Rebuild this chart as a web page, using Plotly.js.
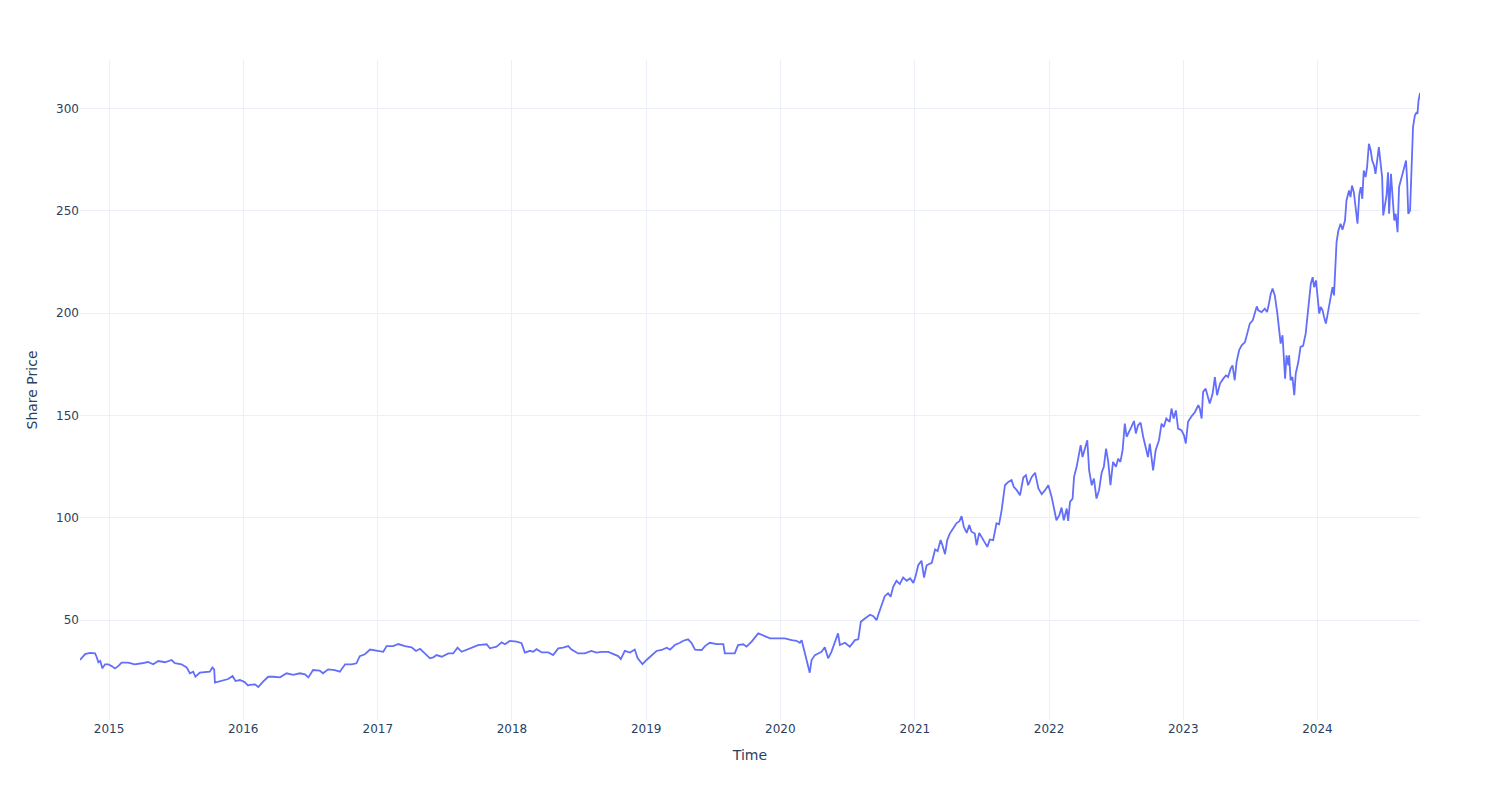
<!DOCTYPE html>
<html>
<head>
<meta charset="utf-8">
<script src="https://cdn.plot.ly/plotly-3.0.1.min.js"></script>
<style>html,body{margin:0;padding:0;background:#fff}#chart{width:1500px;height:800px}</style>
</head>
<body>
<div id="chart"></div>
<script>
const dates = [
'2014-10-14','2014-10-28','2014-11-10','2014-11-24','2014-11-28','2014-12-03','2014-12-08','2014-12-14','2014-12-21','2014-12-30',
'2015-01-08','2015-01-17','2015-01-26','2015-02-04','2015-02-22','2015-03-12','2015-03-31','2015-04-17','2015-05-01','2015-05-15',
'2015-06-02','2015-06-20','2015-06-29','2015-07-17','2015-07-31','2015-08-09','2015-08-18','2015-08-24','2015-09-05','2015-09-23',
'2015-10-02','2015-10-09','2015-10-14','2015-10-16','2015-11-03','2015-11-21','2015-12-03','2015-12-11','2015-12-23',
'2016-01-05','2016-01-14','2016-01-19','2016-02-02','2016-02-11','2016-02-24','2016-03-09','2016-03-23','2016-04-10','2016-04-28',
'2016-05-16','2016-06-03','2016-06-17','2016-06-26','2016-07-09','2016-07-27','2016-08-05','2016-08-19','2016-09-06','2016-09-20',
'2016-10-04','2016-10-22','2016-11-04','2016-11-13','2016-11-27','2016-12-11','2016-12-29',
'2017-01-16','2017-01-25','2017-02-12','2017-02-26','2017-03-16','2017-04-03','2017-04-15','2017-04-26','2017-05-09','2017-05-23',
'2017-06-01','2017-06-10','2017-06-24','2017-07-12','2017-07-25','2017-08-06','2017-08-17','2017-08-31','2017-09-13','2017-10-01',
'2017-10-24','2017-11-02','2017-11-20','2017-12-04','2017-12-13','2017-12-26',
'2018-01-14','2018-01-27','2018-02-05','2018-02-19','2018-02-28','2018-03-09','2018-03-23','2018-04-10','2018-04-23','2018-05-07',
'2018-05-20','2018-06-03','2018-06-12','2018-06-30','2018-07-18','2018-08-05','2018-08-19','2018-09-02','2018-09-20','2018-10-03',
'2018-10-17','2018-10-24','2018-11-04','2018-11-18','2018-12-01','2018-12-09','2018-12-22',
'2019-01-02','2019-01-16','2019-01-29','2019-02-12','2019-02-26','2019-03-07','2019-03-20','2019-04-03','2019-04-12','2019-04-25',
'2019-05-05','2019-05-14','2019-06-01','2019-06-10','2019-06-23','2019-07-12','2019-07-30','2019-08-03','2019-08-17','2019-08-30',
'2019-09-08','2019-09-22','2019-10-01','2019-10-15','2019-11-02','2019-11-15','2019-12-04','2019-12-22',
'2020-01-13','2020-02-01','2020-02-14','2020-02-23','2020-02-28','2020-03-08','2020-03-17','2020-03-21','2020-03-26','2020-04-04',
'2020-04-13','2020-04-22','2020-05-01','2020-05-10','2020-05-19','2020-06-02','2020-06-06','2020-06-11','2020-06-25','2020-07-08',
'2020-07-22','2020-07-31','2020-08-07','2020-08-18','2020-09-01','2020-09-10','2020-09-19','2020-09-23','2020-10-02','2020-10-11',
'2020-10-20','2020-10-27','2020-11-03','2020-11-12','2020-11-21','2020-11-30','2020-12-10','2020-12-19','2020-12-28',
'2021-01-03','2021-01-10','2021-01-19','2021-01-26','2021-02-02','2021-02-16','2021-02-25','2021-03-04','2021-03-12','2021-03-17',
'2021-03-24','2021-03-30','2021-04-06','2021-04-15','2021-04-24','2021-05-02','2021-05-08','2021-05-14','2021-05-22','2021-05-29',
'2021-06-04','2021-06-13','2021-06-18','2021-06-25','2021-07-06','2021-07-17','2021-07-24','2021-08-02','2021-08-11','2021-08-18',
'2021-08-25','2021-09-03','2021-09-12','2021-09-21','2021-09-27','2021-10-05','2021-10-14','2021-10-23','2021-10-30','2021-11-05',
'2021-11-15','2021-11-24','2021-12-03','2021-12-12','2021-12-21','2021-12-30',
'2022-01-08','2022-01-14','2022-01-21','2022-01-29','2022-02-04','2022-02-10','2022-02-18','2022-02-22','2022-02-27','2022-03-06',
'2022-03-10','2022-03-17','2022-03-24','2022-03-28','2022-04-02','2022-04-08','2022-04-15','2022-04-20','2022-04-27','2022-05-03',
'2022-05-10','2022-05-17','2022-05-24','2022-05-30','2022-06-05','2022-06-11','2022-06-17','2022-06-24','2022-07-02','2022-07-08',
'2022-07-14','2022-07-20','2022-07-26','2022-07-31','2022-08-07','2022-08-13','2022-08-20','2022-08-25','2022-08-31','2022-09-07',
'2022-09-14','2022-09-21','2022-09-27','2022-10-02','2022-10-07','2022-10-11','2022-10-18','2022-10-27','2022-11-03','2022-11-09',
'2022-11-16','2022-11-25','2022-11-30','2022-12-06','2022-12-12','2022-12-18','2022-12-27',
'2023-01-03','2023-01-08','2023-01-14','2023-01-24','2023-02-02','2023-02-11','2023-02-15','2023-02-20','2023-02-24','2023-03-03',
'2023-03-10','2023-03-14','2023-03-22','2023-03-28','2023-04-03','2023-04-11','2023-04-20','2023-04-27','2023-05-03','2023-05-10',
'2023-05-15','2023-05-21','2023-05-26','2023-06-02','2023-06-09','2023-06-18','2023-06-24','2023-07-01','2023-07-09','2023-07-15',
'2023-07-20','2023-07-24','2023-08-02','2023-08-11','2023-08-17','2023-08-22','2023-08-27','2023-09-01','2023-09-07','2023-09-14',
'2023-09-19','2023-09-23','2023-09-28','2023-10-02','2023-10-05','2023-10-09','2023-10-14','2023-10-16','2023-10-20','2023-10-25',
'2023-10-30','2023-11-03','2023-11-10','2023-11-16','2023-11-23','2023-11-30','2023-12-04','2023-12-10','2023-12-14','2023-12-19',
'2023-12-23','2023-12-28',
'2024-01-02','2024-01-06','2024-01-10','2024-01-15','2024-01-19','2024-01-24','2024-01-29','2024-02-02','2024-02-07','2024-02-11',
'2024-02-15','2024-02-18','2024-02-22','2024-02-27','2024-03-04','2024-03-09','2024-03-16','2024-03-20','2024-03-27','2024-03-31',
'2024-04-04','2024-04-09','2024-04-15','2024-04-19','2024-04-24','2024-04-28','2024-05-02','2024-05-06','2024-05-11','2024-05-15',
'2024-05-20','2024-05-25','2024-05-29','2024-06-03','2024-06-07','2024-06-12','2024-06-16','2024-06-21','2024-06-25','2024-06-28',
'2024-07-03','2024-07-07','2024-07-11','2024-07-14','2024-07-19','2024-07-23','2024-07-28','2024-08-01','2024-08-06','2024-08-10',
'2024-08-15','2024-08-20','2024-08-24','2024-08-29','2024-09-01','2024-09-04','2024-09-09','2024-09-13','2024-09-17','2024-09-22',
'2024-09-27','2024-09-29','2024-10-02','2024-10-06'
];
const sharePrice = [
30.6,33.4,34.0,33.7,32.1,29.4,30.0,26.4,28.4,28.4,
27.5,26.4,27.5,29.2,29.2,28.4,28.9,29.5,28.4,30.0,
29.4,30.5,28.9,28.4,26.9,24.0,24.8,22.3,24.3,24.5,
24.8,26.8,25.9,19.4,20.2,21.2,22.7,20.2,20.7,
19.7,18.0,18.3,18.6,17.3,19.9,22.3,22.3,22.0,24.0,
23.2,24.0,23.5,22.0,25.6,25.3,24.0,25.9,25.6,24.8,
28.4,28.4,28.9,32.4,33.3,35.6,35.0,
34.5,37.3,37.3,38.3,37.3,36.7,34.9,36.0,33.7,31.3,
31.8,32.9,32.1,33.7,33.7,36.5,34.5,35.6,36.7,37.8,
38.2,36.2,37.0,39.1,38.2,39.8,
39.5,38.7,34.1,35.0,34.5,35.8,34.2,34.2,32.9,36.2,
36.5,37.3,35.6,33.7,33.7,34.9,34.1,34.5,34.5,33.4,
32.4,30.9,35.0,34.1,35.6,31.3,28.5,
30.5,32.6,34.9,35.4,36.5,35.6,37.8,38.9,39.9,40.6,
38.7,35.6,35.4,37.3,38.9,38.3,38.3,33.7,33.7,33.7,
37.8,38.2,37.0,39.5,43.5,42.4,41.1,41.1,
41.1,40.2,39.9,38.9,40.2,33.7,28.0,24.3,30.5,32.9,
33.7,34.5,36.7,31.3,34.5,41.9,43.5,37.8,38.9,37.0,
40.2,40.6,49.2,50.8,52.6,51.9,50.0,52.4,57.3,61.7,
63.1,61.4,66.3,69.2,67.6,70.8,69.2,70.4,68.2,
71.5,76.8,79.0,70.8,76.8,78.0,84.5,83.7,89.1,86.6,
82.2,89.1,92.3,94.8,97.3,98.3,100.8,95.6,92.6,96.4,
93.2,92.3,86.6,92.6,89.1,85.8,89.4,89.1,97.3,96.8,
103.7,115.9,117.5,118.4,115.1,113.5,111.0,119.7,120.8,115.9,
120.0,122.0,114.3,111.5,113.5,115.9,
110.2,105.3,98.8,101.3,105.0,98.8,104.5,98.5,107.8,109.4,
120.0,124.9,131.4,135.5,129.7,133.0,137.9,123.2,115.9,119.2,
109.4,113.5,122.0,124.9,133.8,127.3,116.0,127.3,124.9,128.9,
127.3,133.0,146.0,139.6,142.0,144.4,147.3,141.2,145.2,146.5,
139.6,133.8,129.7,136.3,129.7,123.2,133.0,137.9,146.0,144.4,
148.5,146.9,153.4,148.5,152.5,143.6,142.8,
140.3,136.3,146.9,149.7,151.7,155.0,153.4,148.5,161.5,163.1,
158.3,155.8,160.7,168.8,159.9,165.6,168.0,169.6,168.8,172.9,
174.5,167.2,176.1,181.9,184.3,185.9,190.0,194.9,196.5,199.8,
203.3,201.4,200.5,202.2,200.5,204.6,209.5,212.0,208.7,199.8,
191.6,185.1,189.2,177.0,168.0,179.4,174.5,179.4,167.2,168.8,
159.9,170.5,176.1,183.5,184.0,190.0,196.5,204.6,214.4,217.6,
212.7,216.0,
204.6,199.8,203.0,201.4,198.1,194.9,199.8,203.8,209.5,212.7,
208.7,224.2,234.7,240.4,243.7,240.8,245.3,255.1,260.0,256.7,
262.4,259.1,249.4,243.7,258.3,261.6,255.9,269.7,266.5,271.3,
282.8,279.5,274.6,272.2,268.1,275.4,281.1,273.0,266.5,247.8,
253.5,257.5,268.9,248.6,268.1,257.5,245.3,248.6,239.6,261.6,
264.8,268.1,270.6,274.6,264.8,248.6,250.2,272.2,290.9,296.6,
298.2,297.4,303.9,307.6
];

const trace = {
  type: 'scatter',
  mode: 'lines',
  x: dates,
  y: sharePrice,
  line: {color: '#636efa', width: 1.8},
  showlegend: false
};

const layout = {
  width: 1500,
  height: 800,
  margin: {t: 60, l: 80, r: 80, b: 80},
  paper_bgcolor: '#ffffff',
  plot_bgcolor: '#ffffff',
  font: {family: '"DejaVu Sans", verdana, arial, sans-serif', size: 12, color: '#2a3f5f'},
  xaxis: {
    type: 'date',
    title: {text: 'Time', font: {size: 14}, standoff: 15},
    automargin: true,
    gridcolor: '#EBF0F8',
    showline: false,
    zeroline: false,
    ticks: ''
  },
  yaxis: {
    title: {text: 'Share Price', font: {size: 14}, standoff: 15},
    automargin: true,
    gridcolor: '#EBF0F8',
    zerolinecolor: '#EBF0F8',
    zeroline: true,
    ticks: ''
  },
  hovermode: 'closest'
};

Plotly.newPlot('chart', [trace], layout, {displayModeBar: false, responsive: false});
</script>
</body>
</html>
